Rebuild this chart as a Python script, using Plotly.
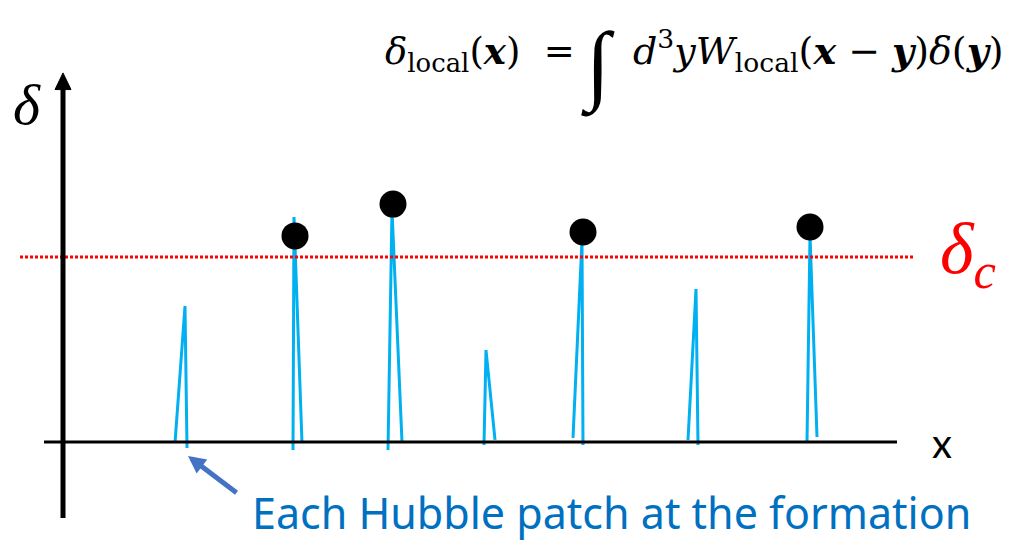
import plotly.graph_objects as go

# Hubble patches along x: peak centre, peak height (delta), and the two feet of each spike
peak_x = [1.22, 2.31, 3.29, 4.23, 5.19, 6.33, 7.47]
peak_delta = [0.735, 1.216, 1.254, 0.497, 1.092, 0.827, 1.119]
foot_left_x = [1.12, 2.30, 3.25, 4.21, 5.10, 6.25, 7.44]
foot_left_delta = [-0.005, -0.043, -0.043, -0.016, 0.022, 0.011, -0.005]
foot_right_x = [1.24, 2.39, 3.39, 4.32, 5.20, 6.35, 7.54]
foot_right_delta = [-0.032, -0.005, 0.0, 0.011, -0.016, -0.016, 0.027]

# patches that exceed the threshold and collapse
collapse_x = [2.32, 3.30, 5.20, 7.47]
collapse_delta = [1.114, 1.286, 1.135, 1.162]

delta_c = 1.0

W, H = 1014, 541
X0, Y0 = 63, 442          # origin in pixels
SX, SY = 100.0, 185.0     # pixels per unit


def px(x):
    return x / W


def py(y):
    return 1 - y / H


spike_x, spike_y = [], []
for lx, ly, cx, cy, rx, ry in zip(foot_left_x, foot_left_delta, peak_x, peak_delta,
                                  foot_right_x, foot_right_delta):
    spike_x += [lx, cx, rx, None]
    spike_y += [ly, cy, ry, None]

fig = go.Figure()

fig.add_trace(go.Scatter(
    x=spike_x, y=spike_y, mode="lines",
    line=dict(color="#00B0F0", width=3),
    hoverinfo="skip", showlegend=False,
))
fig.add_trace(go.Scatter(
    x=collapse_x, y=collapse_delta, mode="markers",
    marker=dict(color="black", size=27, line=dict(width=0)),
    hoverinfo="skip", showlegend=False,
))

shapes = [
    # threshold
    dict(type="line", xref="x", yref="y", x0=-0.43, x1=8.52, y0=delta_c, y1=delta_c,
         line=dict(color="#FF0000", width=3, dash="3px,2px")),
    # horizontal axis
    dict(type="line", xref="x", yref="y", x0=-0.19, x1=8.34, y0=0, y1=0,
         line=dict(color="black", width=3)),
    # vertical axis with arrow head
    dict(type="line", xref="x", yref="y", x0=0, x1=0, y0=-0.411, y1=1.91,
         line=dict(color="black", width=5)),
    dict(type="path", xref="x", yref="y",
         path="M -0.08 1.905 L 0 1.995 L 0.08 1.905 Z",
         fillcolor="black", line=dict(color="black", width=1)),
]

serif = "DejaVu Serif"
annotations = [
    # formula, left part
    dict(xref="paper", yref="paper", x=px(383), y=py(80), xanchor="left", yanchor="bottom",
         showarrow=False,
         text="<i>δ</i><sub>local</sub>(<b><i>x</i></b>)  =",
         font=dict(family=serif, size=37, color="black")),
    # integral sign
    dict(xref="paper", yref="paper", x=px(598), y=py(66), xanchor="center", yanchor="middle",
         showarrow=False, text="<i>∫</i>",
         font=dict(family="Liberation Serif", size=88, color="black")),
    # formula, right part
    dict(xref="paper", yref="paper", x=px(1006), y=py(80), xanchor="right", yanchor="bottom",
         showarrow=False,
         text="<i>d</i><sup>3</sup><i>yW</i><sub>local</sub>(<b><i>x</i></b> − <b><i>y</i></b>)<i>δ</i>(<b><i>y</i></b>)",
         font=dict(family=serif, size=38, color="black")),
    # y axis label
    dict(xref="paper", yref="paper", x=px(27), y=py(104), xanchor="center", yanchor="middle",
         showarrow=False, text="<i>δ</i>",
         font=dict(family="Liberation Serif", size=58, color="black")),
    # x axis label
    dict(xref="paper", yref="paper", x=px(942), y=py(443), xanchor="center", yanchor="middle",
         showarrow=False, text="x",
         font=dict(family="Lato", size=40, color="black")),
    # threshold label
    dict(xref="paper", yref="paper", x=px(968), y=py(254), xanchor="center", yanchor="middle",
         showarrow=False, text="<i>δ</i><sub><i>c</i></sub>",
         font=dict(family="Liberation Serif", size=72, color="#FF0000")),
    # caption with arrow
    dict(xref="paper", yref="paper", x=px(611), y=py(544), xanchor="center", yanchor="bottom",
         showarrow=False, text="Each Hubble patch at the formation",
         font=dict(family="Noto Sans", size=43, color="#0070C0")),
    dict(xref="paper", yref="paper", x=px(188), y=py(456), axref="pixel", ayref="pixel",
         ax=50, ay=38, showarrow=True, text="",
         arrowhead=2, arrowsize=0.7, arrowwidth=5, arrowcolor="#4472C4"),
]

fig.update_layout(
    width=W, height=H,
    margin=dict(l=0, r=0, t=0, b=0),
    paper_bgcolor="white", plot_bgcolor="white",
    xaxis=dict(range=[-X0 / SX, (W - X0) / SX], visible=False, fixedrange=True),
    yaxis=dict(range=[(Y0 - H) / SY, Y0 / SY], visible=False, fixedrange=True),
    shapes=shapes, annotations=annotations,
    showlegend=False,
)

fig.write_html("out.html")
